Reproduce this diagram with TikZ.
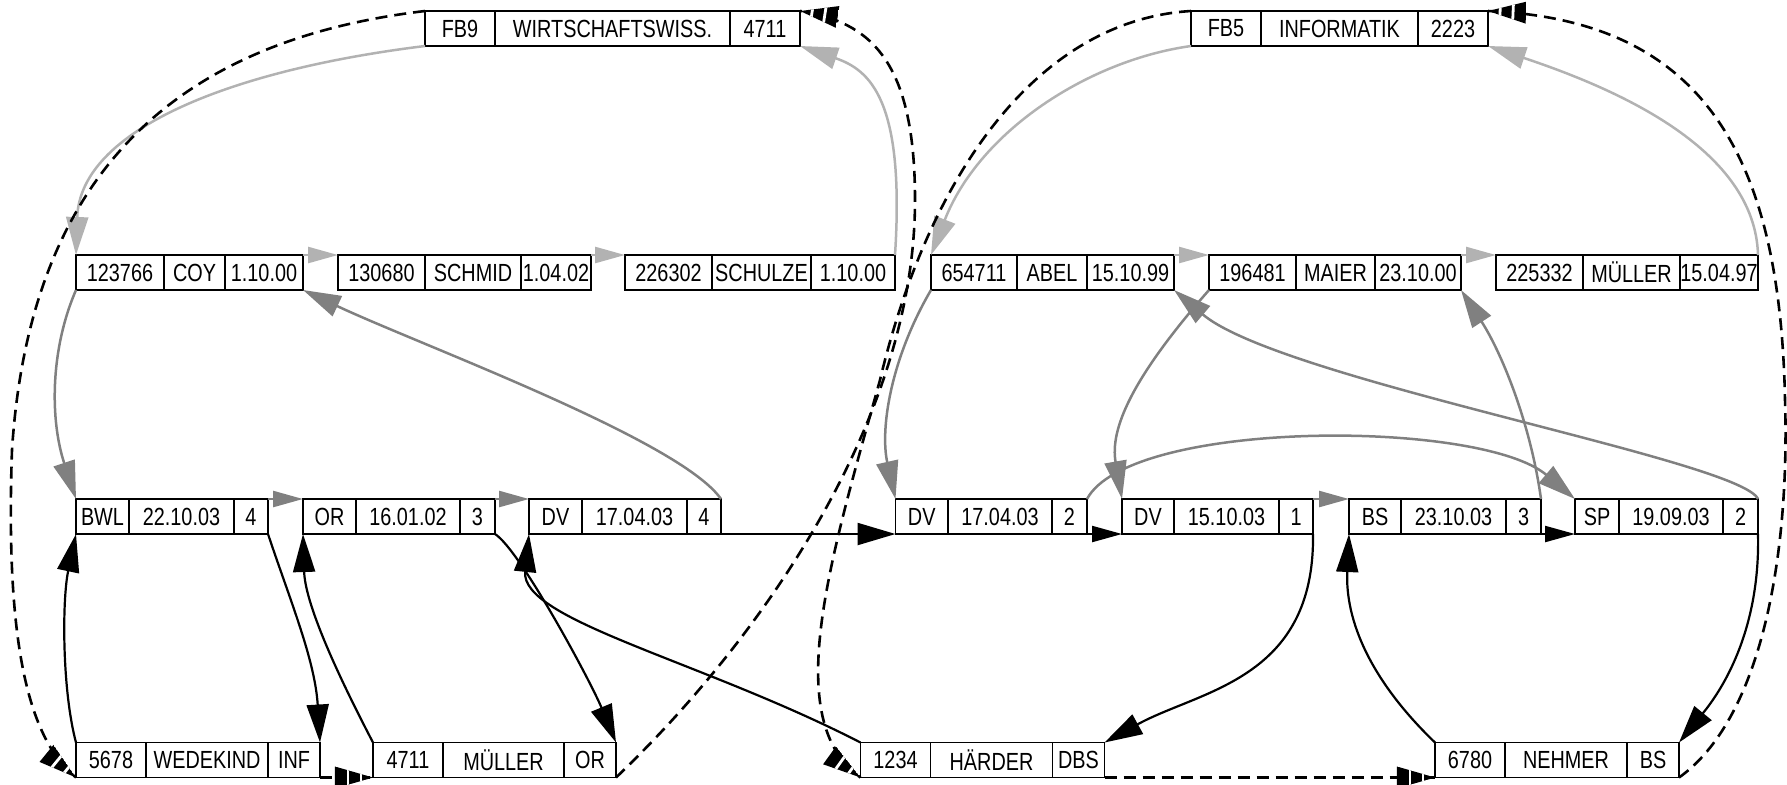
\documentclass[tikz,border=0pt]{standalone}
\usepackage{fontspec}
\setmainfont{Liberation Sans}[FakeStretch=0.8]
\usetikzlibrary{arrows.meta,decorations.markings}
\definecolor{lgray}{RGB}{178,178,178}
\definecolor{dgray}{RGB}{128,128,128}
\newcommand\recbox[9]{%
  \node[cell,minimum width=#4*0.5pt] (#1a) at (#2,#3) {#7};
  \node[cell,minimum width=#5*0.5pt] (#1b) at (#1a.east) {#8};
  \node[cell,minimum width=#6*0.5pt] (#1c) at (#1b.east) {#9};
}
\newcommand\hatchtip{%
  \begin{scope}
    \path[clip] (0pt,0pt) -- (-19pt,5.5pt) -- (-19pt,-5.5pt) -- cycle;
    \fill[black] (0pt,0pt) -- (-19pt,5.5pt) -- (-19pt,-5.5pt) -- cycle;
    \draw[white,solid,line width=1.4pt] (-6pt,-8pt) -- (-6pt,8pt) (-12.5pt,-8pt) -- (-12.5pt,8pt);
  \end{scope}}
\tikzset{
  cell/.style={draw,fill=white,line width=0.75pt,minimum height=17.5pt,inner sep=0pt,outer sep=0pt,anchor=west,font=\fontsize{12.4}{14}\selectfont},
  bigtip/.style={-{Triangle[length=19pt,width=11pt]}},
  smalltip/.style={-{Triangle[length=15pt,width=8pt]}},
  lg/.style={draw=lgray,line width=1.25pt,bigtip},
  lgs/.style={draw=lgray,line width=1.25pt,smalltip},
  dg/.style={draw=dgray,line width=1.25pt,bigtip},
  dgs/.style={draw=dgray,line width=1.25pt,smalltip},
  bk/.style={draw=black,line width=1.1pt,bigtip},
  bks/.style={draw=black,line width=1.1pt,smalltip},
  dsh/.style={draw=black,line width=1.3pt,dash pattern=on 6pt off 3.5pt,
    postaction={decorate},decoration={markings,mark=at position 0.9999 with {\hatchtip}}}
}
\begin{document}
\begin{tikzpicture}[x=0.5pt,y=-0.5pt]
\useasboundingbox (0,0) rectangle (1787,784);
% row 1
\recbox{fbnine}{425}{28.5}{70}{235}{70}{FB9}{WIRTSCHAFTSWISS.}{4711}
\recbox{fbfive}{1191}{28.5}{70}{157}{70}{FB5}{INFORMATIK}{2223}
% row 2
\recbox{pa}{76}{272.5}{88}{61}{78}{123766}{COY}{1.10.00}
\recbox{pb}{338}{272.5}{87}{96}{70}{130680}{SCHMID}{1.04.02}
\recbox{pc}{625}{272.5}{87}{99}{84}{226302}{SCHULZE}{1.10.00}
\recbox{pd}{931}{272.5}{86}{70}{87}{654711}{ABEL}{15.10.99}
\recbox{pe}{1209}{272.5}{87}{79}{86}{196481}{MAIER}{23.10.00}
\recbox{pf}{1496}{272.5}{87}{97}{78}{225332}{MÜLLER}{15.04.97}
% row 3
\recbox{ea}{76}{516.5}{53}{105}{34}{BWL}{22.10.03}{4}
\recbox{eb}{303}{516.5}{53}{104}{35}{OR}{16.01.02}{3}
\recbox{ec}{529}{516.5}{53}{105}{34}{DV}{17.04.03}{4}
\recbox{ed}{895.5}{516.5}{52.5}{104}{35}{DV}{17.04.03}{2}
\recbox{ee}{1122}{516.5}{52}{105}{34}{DV}{15.10.03}{1}
\recbox{ef}{1349}{516.5}{52}{105}{35}{BS}{23.10.03}{3}
\recbox{eg}{1575}{516.5}{44}{104}{35}{SP}{19.09.03}{2}
% row 4
\recbox{sa}{76}{760}{70}{122}{52}{5678}{WEDEKIND}{INF}
\recbox{sb}{373}{760}{70}{121}{52}{4711}{MÜLLER}{OR}
\recbox{sc}{860.5}{760}{70}{122}{52}{1234}{HÄRDER}{DBS}
\recbox{sd}{1435}{760}{70}{122}{52}{6780}{NEHMER}{BS}
% light gray: FB - PROF
\draw[lg] (fbninea.south west) .. controls (230,70) and (80,130) .. (paa.north west);
\draw[lgs] (pac.north east) -- (pba.north west);
\draw[lgs] (pbc.north east) -- (pca.north west);
\draw[lg] (pcc.north east) .. controls (905,100) and (870,70) .. (fbninec.south east);
\draw[lg] (fbfivea.south west) .. controls (1090,60) and (980,130) .. (pda.north west);
\draw[lgs] (pdc.north east) -- (pea.north west);
\draw[lgs] (pec.north east) -- (pfa.north west);
\draw[lg] (pfc.north east) .. controls (1755,150) and (1620,90) .. (fbfivec.south east);
% dark gray: PROF - exams
\draw[dg] (paa.south west) .. controls (50,350) and (50,420) .. (eaa.north west);
\draw[dgs] (eac.north east) -- (eba.north west);
\draw[dgs] (ebc.north east) -- (eca.north west);
\draw[dg] (ecc.north east) .. controls (680,440) and (420,345) .. (pac.south east);
\draw[dg] (pda.south west) .. controls (890,360) and (880,430) .. (eda.north west);
\draw[dg] (edc.north east) .. controls (1130,419) and (1480,419) .. (ega.north west);
\draw[dg] (pea.south west) .. controls (1130,380) and (1110,430) .. (eea.north west);
\draw[dgs] (eec.north east) -- (efa.north west);
\draw[dg] (efc.north east) .. controls (1530,420) and (1500,350) .. (pec.south east);
\draw[dg] (egc.north east) .. controls (1740,460) and (1280,380) .. (pdc.south east);
% black: student - exams
\draw[bk] (saa.north west) .. controls (62,690) and (62,600) .. (eaa.south west);
\draw[bk] (eac.south east) .. controls (290,600) and (315,660) .. (sac.north east);
\draw[bk] (sba.north west) .. controls (330,660) and (305,600) .. (eba.south west);
\draw[bk] (ebc.south east) .. controls (520,550) and (590,680) .. (sbc.north east);
\draw[bk] (sca.north west) .. controls (700,660) and (520,620) .. (eca.south west);
\draw[bk] (ecc.south east) -- (eda.south west);
\draw[bks] (edc.south east) -- (eea.south west);
\draw[bk] (eec.south east) .. controls (1315,680) and (1200,690) .. (scc.north east);
\draw[bk] (sda.north west) .. controls (1370,680) and (1345,620) .. (efa.south west);
\draw[bks] (efc.south east) -- (ega.south west);
\draw[bk] (egc.south east) .. controls (1760,620) and (1730,680) .. (sdc.north east);
% dashed: FB - students
\draw[dsh] (fbninea.north west) .. controls (180,40) and (30,170) .. (12,450) .. controls (5,650) and (30,740) .. (saa.south west);
\draw[dsh] (sac.south east) -- (sba.south west);
\draw[dsh] (sbc.south east) .. controls (760,640) and (915,420) .. (915,200) .. controls (915,60) and (870,22) .. (fbninec.north east);
\draw[dsh] (fbfivea.north west) .. controls (1040,20) and (930,170) .. (880,380) .. controls (830,560) and (780,720) .. (sca.south west);
\draw[dsh] (scc.south east) -- (sda.south west);
\draw[dsh] (sdc.south east) .. controls (1760,720) and (1790,560) .. (1785,400) .. controls (1780,150) and (1700,20) .. (fbfivec.north east);
\end{tikzpicture}
\end{document}
